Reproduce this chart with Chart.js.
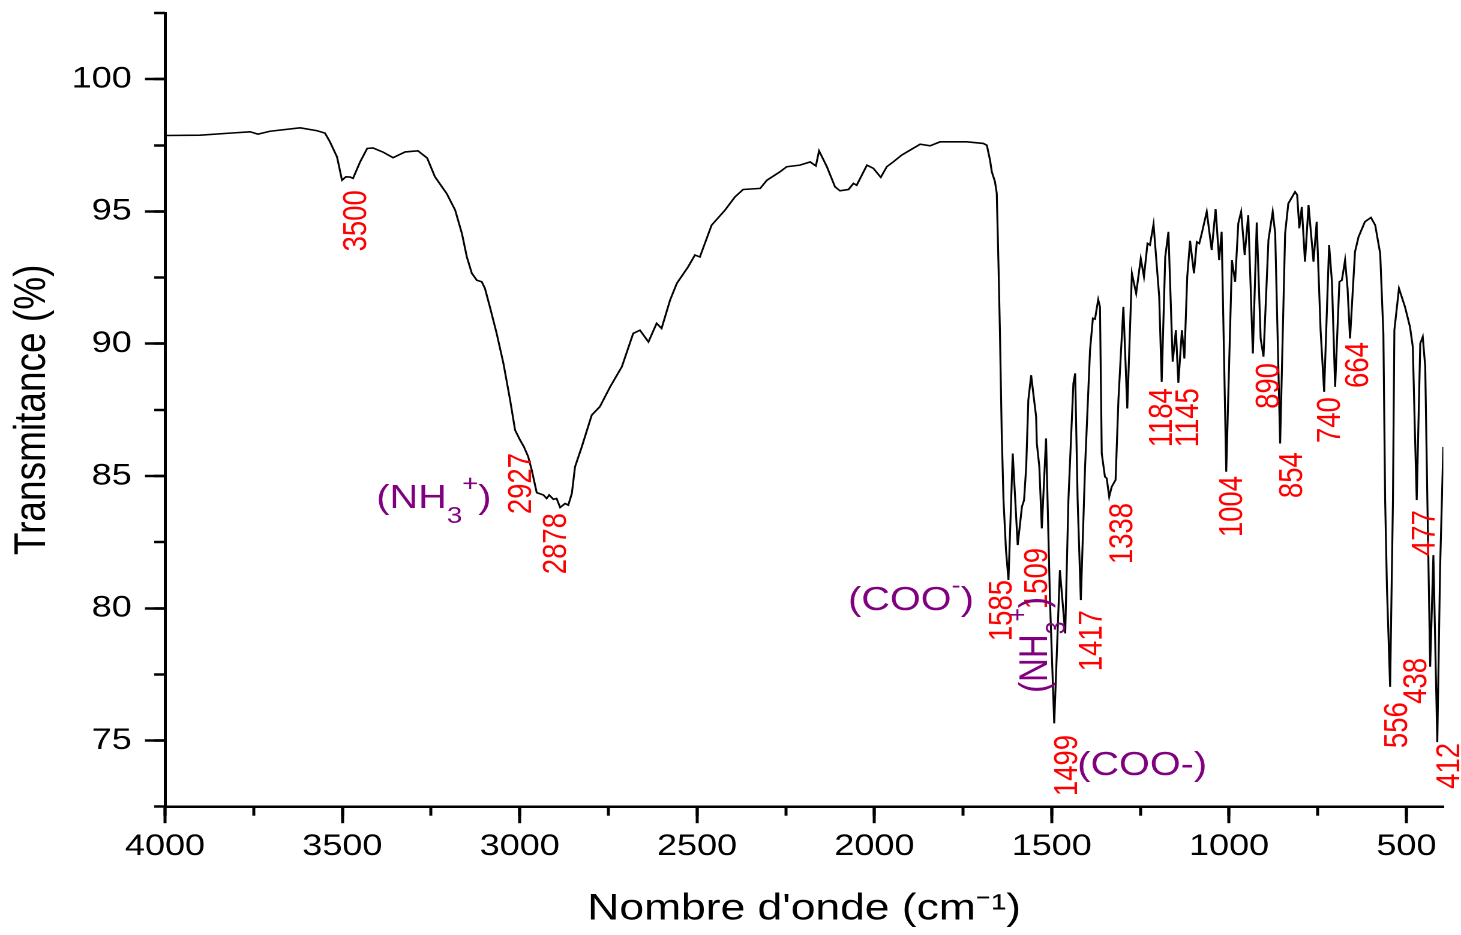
<!DOCTYPE html>
<html>
<head>
<meta charset="utf-8">
<title>Spectre IR</title>
<script src="https://cdn.jsdelivr.net/npm/chart.js@4.4.1/dist/chart.umd.min.js"></script>
<style>
  html, body { margin: 0; padding: 0; background: #ffffff; overflow: hidden; }
  #wrap { position: absolute; left: 0; top: 0; width: 1217px; height: 935px;
          transform: scaleX(1.2); transform-origin: 0 0; }
  #c { display: block; }
</style>
</head>
<body>
<div id="wrap"><canvas id="c" width="1217" height="935"></canvas></div>
<script>
// ---------------- data ----------------
const wavenumbers = [4000,3901,3817,3760,3738,3704,3619,3571,3549,3535,3515,3501,3490,3478,3470,3450,3430,3414,3385,3357,3323,3287,3261,3239,3206,3182,3163,3149,3135,3121,3107,3098,3084,3065,3046,3027,3013,2999,2988,2976,2966,2952,2933,2924,2917,2905,2896,2886,2872,2863,2853,2844,2825,2797,2774,2745,2712,2680,2661,2637,2614,2600,2576,2557,2525,2506,2492,2459,2421,2393,2370,2322,2303,2266,2247,2210,2181,2165,2156,2134,2111,2097,2073,2059,2050,2021,2003,1982,1965,1947,1923,1899,1871,1843,1815,1740,1693,1683,1674,1669,1660,1655,1650,1646,1641,1636,1629,1622,1610,1596,1584,1578,1572,1566,1558,1552,1544,1542,1535,1528,1516,1505,1493,1477,1462,1453,1439,1434,1427,1418,1406,1392,1384,1378,1369,1364,1359,1350,1345,1338,1331,1320,1312,1298,1287,1274,1262,1249,1240,1230,1223,1213,1197,1190,1180,1171,1159,1150,1143,1133,1126,1118,1110,1099,1091,1084,1077,1063,1049,1038,1028,1021,1008,992,983,974,966,956,946,933,922,911,903,889,877,870,856,842,833,814,808,802,795,786,776,762,753,742,732,718,710,701,689,682,673,666,659,645,635,617,600,588,574,565,560,555,546,538,534,521,504,490,482,476,471,461,454,447,441,433,424,413,405,396];
const transmittance = [97.87,97.88,97.96,98.01,97.92,98.03,98.16,98.05,97.96,97.63,97.06,96.18,96.31,96.30,96.25,96.87,97.38,97.40,97.24,97.03,97.25,97.29,97.02,96.31,95.68,95.05,94.17,93.28,92.66,92.40,92.34,92.09,91.39,90.39,89.26,87.87,86.73,86.36,86.10,85.73,85.22,84.37,84.28,84.15,84.28,84.12,84.15,83.81,83.96,83.90,84.34,85.35,86.10,87.30,87.62,88.37,89.13,90.39,90.51,90.07,90.77,90.58,91.65,92.28,92.91,93.35,93.28,94.48,95.05,95.55,95.83,95.87,96.18,96.50,96.69,96.75,96.87,96.72,97.29,96.69,95.93,95.78,95.83,96.06,95.99,96.75,96.63,96.29,96.69,96.87,97.13,97.32,97.54,97.48,97.63,97.63,97.57,97.50,96.94,96.50,96.12,95.68,92.91,90.39,86.61,84.09,82.20,81.07,85.85,82.39,83.84,84.09,85.35,87.87,88.81,88.12,87.24,86.23,85.35,83.02,86.42,80.31,75.65,81.44,79.05,84.09,88.50,88.88,84.09,80.31,85.35,89.76,90.96,90.93,91.67,91.39,85.85,84.97,84.91,84.21,84.59,84.85,87.87,91.39,87.55,92.66,91.90,93.22,92.53,93.79,93.73,94.52,91.77,88.56,93.28,94.23,89.32,90.51,88.52,90.51,89.44,92.53,93.89,92.66,93.85,93.79,94.17,94.99,93.54,95.09,93.16,94.23,85.16,93.16,92.34,94.55,94.99,93.35,94.86,89.63,94.58,90.20,89.51,93.92,94.99,94.17,86.23,94.17,95.30,95.74,95.62,94.36,95.17,93.10,95.24,93.10,94.61,90.51,88.18,93.73,92.34,88.37,92.34,92.40,93.16,92.09,90.20,93.47,94.04,94.61,94.77,94.48,93.41,90.39,84.09,80.81,77.03,84.09,90.51,92.09,91.39,90.64,89.88,86.61,84.09,90.01,90.26,89.13,84.09,77.79,82.01,74.94,81.57,86.10];

const xTickValues = [4000,3500,3000,2500,2000,1500,1000,500];
const xTickLabels = ['4000','3500','3000','2500','2000','1500','1000','500'];
const xMinorTickValues = [4000,3750,3500,3250,3000,2750,2500,2250,2000,1750,1500,1250,1000,750,500];
const yTickValues = [75,80,85,90,95,100];
const yTickLabels = ['75','80','85','90','95','100'];
const yMinorTickValues = [72.5,75,77.5,80,82.5,85,87.5,90,92.5,95,97.5,100,102.5];

// peak labels (text, anchored by wavenumber / transmittance)
const peakLabels = ['3500','2927','2878','1585','1509','1499','1417','1338','1184','1145','1004','890','854','740','664','556','477','438','412'];
const peakLabelWn = [3467,3002,2903,1646,1547,1462,1392,1307,1195,1121,997,893,828,721,642,532,453,477,385];
const peakLabelT  = [95.80,85.87,83.60,81.07,82.28,75.21,79.93,83.98,88.32,88.32,85.00,89.27,85.90,87.98,90.06,76.45,83.71,78.12,74.91];

// group assignments
const groupTexts = [
  [['(NH','n'],['3','sub'],['+','sup'],[')','n']],
  [['(COO','n'],['-','sup'],[')','n']],
  [['(NH','n'],['3','sub'],['+','sup'],[')','n']],
  [['(COO-)','n']]
];
const groupWn = [3404, 2074, 1513, 1428];
const groupT  = [83.79, 79.93, 76.80, 73.70];
const groupRotated = [false, false, true, false];

// ---------------- styles ----------------
const FONT = "'Liberation Sans', Arial, Helvetica, sans-serif";
const RED = '#ff0000';
const PURPLE = '#800080';

const annotationPlugin = {
  id: 'irAnnotations',
  afterDraw(chart) {
    const ctx = chart.ctx;
    const xs = chart.scales.x, ys = chart.scales.y;
    ctx.save();
    const ls = 27.5;
    ctx.font = ls + 'px ' + FONT;
    ctx.fillStyle = RED;
    peakLabels.forEach((txt, i) => {
      const px = xs.getPixelForValue(peakLabelWn[i]);
      const py = ys.getPixelForValue(peakLabelT[i]);
      ctx.save();
      ctx.translate(px, py);
      ctx.rotate(-Math.PI / 2);
      ctx.textAlign = 'right';
      ctx.textBaseline = 'alphabetic';
      ctx.fillText(txt, 0, ls * 0.358);
      ctx.restore();
    });
    ctx.fillStyle = PURPLE;
    groupTexts.forEach((parts, i) => {
      const px = xs.getPixelForValue(groupWn[i]);
      const py = ys.getPixelForValue(groupT[i]);
      ctx.save();
      ctx.translate(px, py);
      if (groupRotated[i]) ctx.rotate(-Math.PI / 2);
      ctx.textAlign = 'left';
      ctx.textBaseline = 'alphabetic';
      let cx = 0;
      parts.forEach(([t, kind]) => {
        const size = kind === 'n' ? 33 : 23;
        const dy = kind === 'sub' ? 15 : (kind === 'sup' ? -17 : 0);
        ctx.font = size + 'px ' + FONT;
        ctx.fillText(t, cx, dy);
        cx += ctx.measureText(t).width;
      });
      ctx.restore();
    });
    ctx.restore();
  }
};

Chart.defaults.font.family = FONT;
Chart.defaults.color = '#000000';

const X_MIN = 396, X_MAX = 4000, Y_MIN = 72.5, Y_MAX = 102.5;
const noPad = s => { s.paddingTop = 0; s.paddingBottom = 0; s.paddingLeft = 0; s.paddingRight = 0; };

new Chart(document.getElementById('c'), {
  type: 'line',
  data: {
    datasets: [{
      data: wavenumbers.map((w, i) => ({ x: w, y: transmittance[i] })),
      borderColor: '#000000',
      borderWidth: 1.6,
      pointRadius: 0,
      tension: 0,
      fill: false,
      xAxisID: 'x',
      yAxisID: 'y'
    }]
  },
  options: {
    responsive: false,
    animation: false,
    devicePixelRatio: 2,
    layout: { padding: { left: 0, right: 14.25, top: 13, bottom: 0 } },
    plugins: { legend: { display: false }, tooltip: { enabled: false } },
    scales: {
      x: {
        type: 'linear', position: 'bottom', reverse: true, min: X_MIN, max: X_MAX, weight: 1,
        afterBuildTicks: s => { s.ticks = xTickValues.map(v => ({ value: v })); },
        afterFit: s => { s.height = 128.3; noPad(s); },
        grid: { drawOnChartArea: false, drawTicks: true, tickLength: 16.5, tickWidth: 2.5, tickColor: '#000' },
        border: { display: true, width: 2.5, color: '#000' },
        ticks: { autoSkip: false, maxRotation: 0, minRotation: 0, padding: 5.3,
                 font: { size: 30 }, color: '#000',
                 callback: (v, i) => xTickLabels[i] },
        title: { display: true, text: "Nombre d'onde (cm\u207B\u00B9)", color: '#000',
                 font: { size: 37 }, padding: { top: 0, bottom: 3.6 } }
      },
      xMinor: {
        type: 'linear', position: 'bottom', reverse: true, min: X_MIN, max: X_MAX, weight: 0,
        afterBuildTicks: s => { s.ticks = xMinorTickValues.map(v => ({ value: v })); },
        afterFit: s => { s.height = 0; noPad(s); },
        grid: { drawOnChartArea: false, drawTicks: true, tickLength: 9, tickWidth: 2.5, tickColor: '#000' },
        border: { display: false },
        ticks: { display: false }
      },
      y: {
        type: 'linear', position: 'left', min: Y_MIN, max: Y_MAX, weight: 1,
        afterBuildTicks: s => { s.ticks = yTickValues.map(v => ({ value: v })); },
        afterFit: s => { s.width = 137.5; noPad(s); },
        grid: { drawOnChartArea: false, drawTicks: true, tickLength: 16.7, tickWidth: 2.5, tickColor: '#000' },
        border: { display: true, width: 2.5, color: '#000' },
        ticks: { padding: 11, font: { size: 30 }, color: '#000',
                 callback: (v, i) => yTickLabels[i] },
        title: { display: true, text: 'Transmitance (%)', color: '#000',
                 font: { size: 37 }, padding: { top: 5.3, bottom: 0 } }
      },
      yMinor: {
        type: 'linear', position: 'left', min: Y_MIN, max: Y_MAX, weight: 0,
        afterBuildTicks: s => { s.ticks = yMinorTickValues.map(v => ({ value: v })); },
        afterFit: s => { s.width = 0; noPad(s); },
        grid: { drawOnChartArea: false, drawTicks: true, tickLength: 9, tickWidth: 2.5, tickColor: '#000' },
        border: { display: false },
        ticks: { display: false }
      }
    }
  },
  plugins: [annotationPlugin]
});
</script>
</body>
</html>
